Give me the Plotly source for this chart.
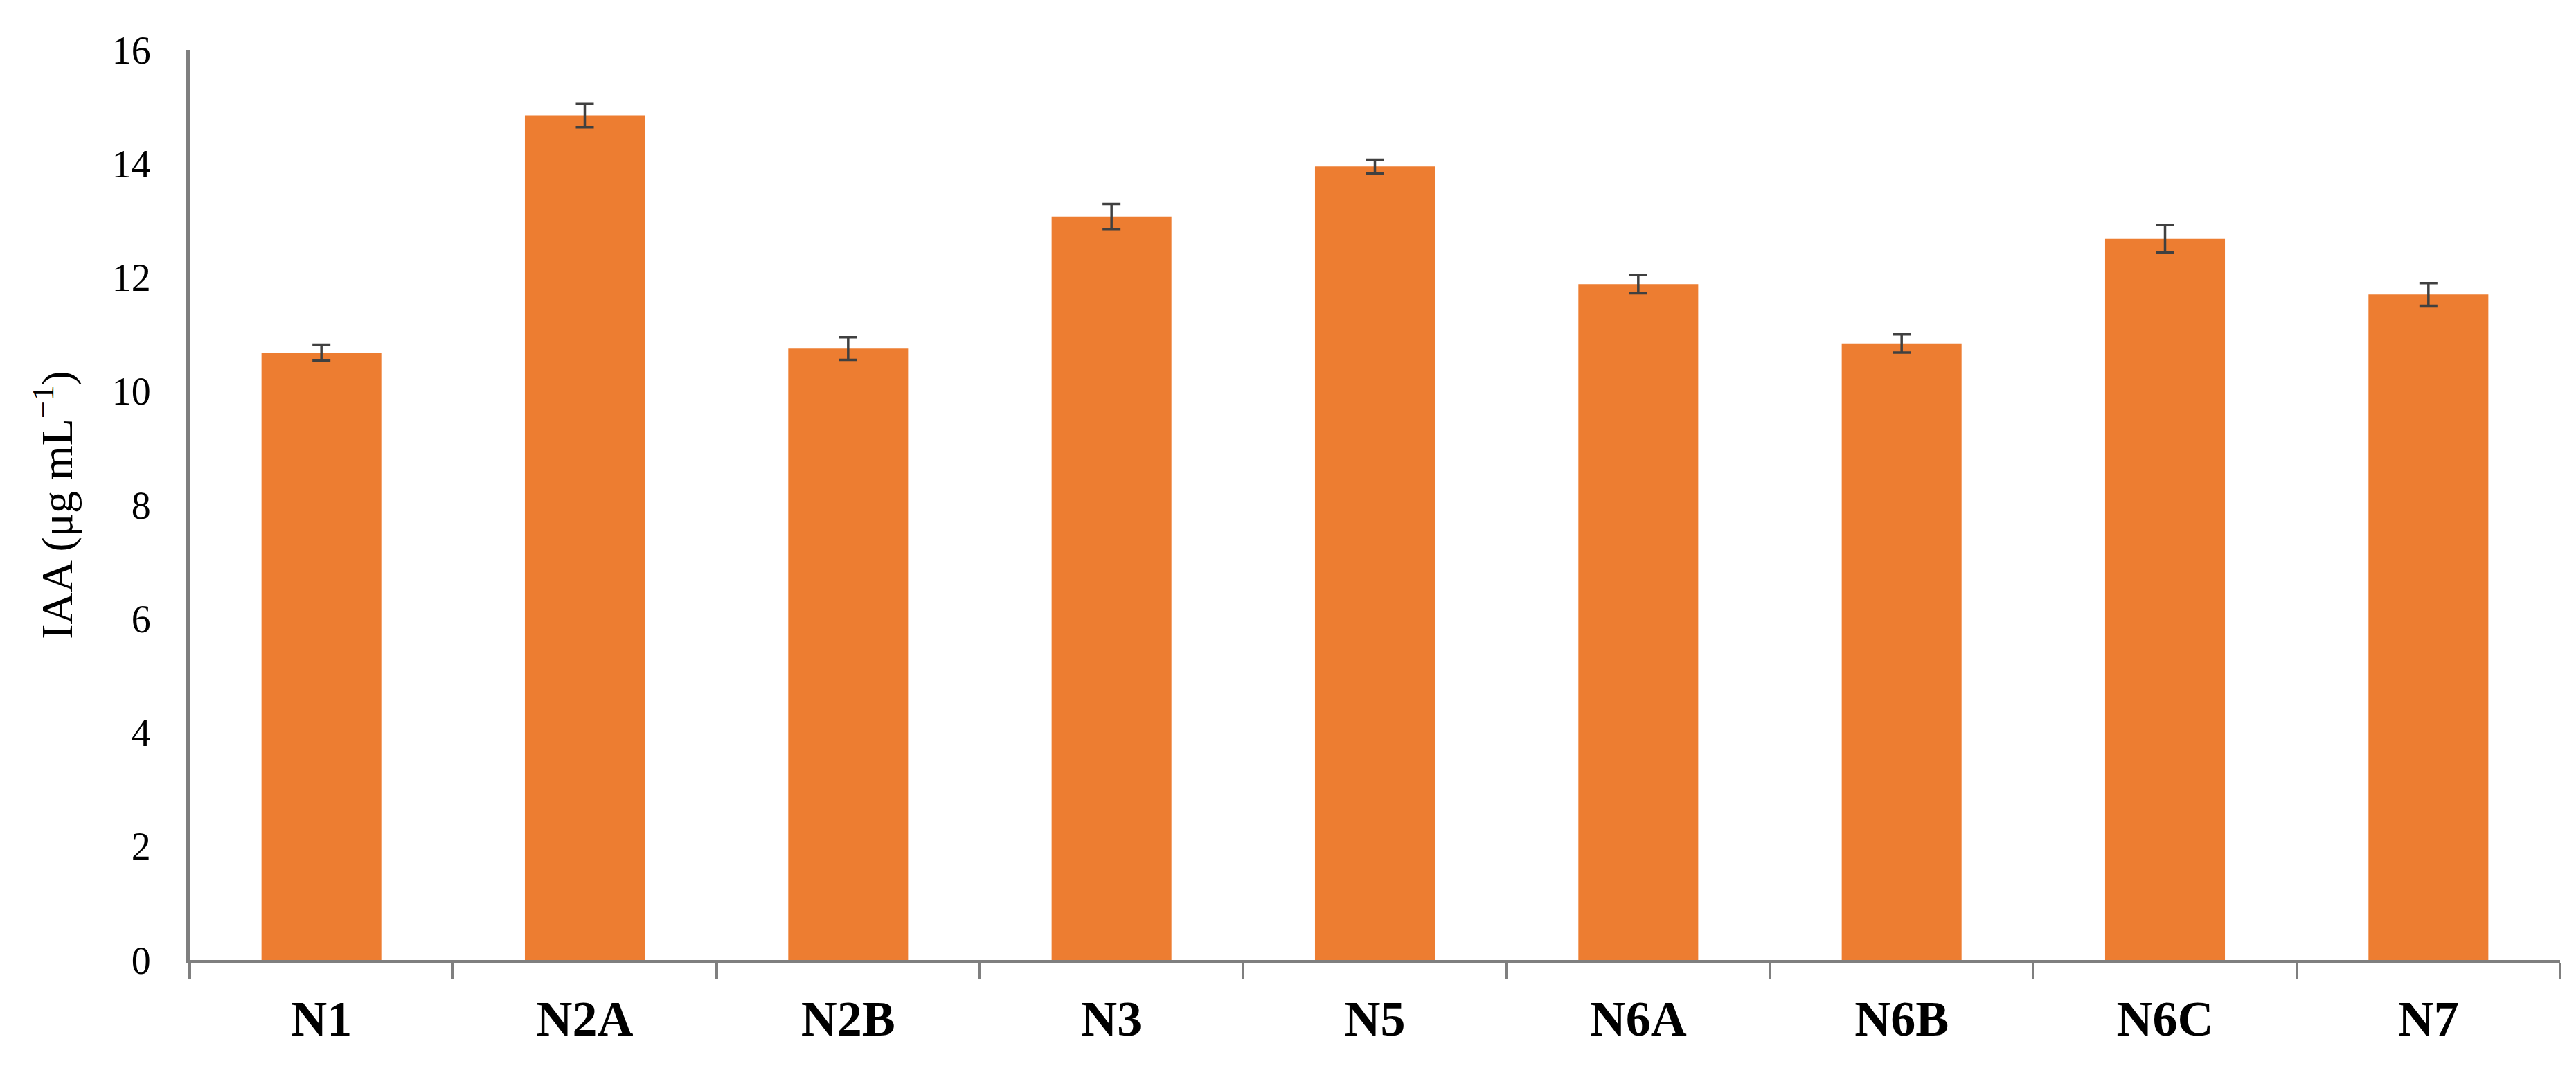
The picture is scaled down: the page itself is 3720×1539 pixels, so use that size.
import plotly.graph_objects as go

strains = ["N1", "N2A", "N2B", "N3", "N5", "N6A", "N6B", "N6C", "N7"]
iaa = [10.68, 14.85, 10.75, 13.07, 13.95, 11.88, 10.84, 12.68, 11.70]
iaa_err = [0.14, 0.21, 0.20, 0.22, 0.12, 0.16, 0.16, 0.24, 0.20]

yTitle = "IAA (μg mL<sup>−1</sup>)"
serif = "Liberation Serif"

fig = go.Figure()
fig.add_trace(go.Bar(
    x=strains,
    y=iaa,
    width=0.455,
    marker=dict(color="#ED7D31", line=dict(width=0)),
    error_y=dict(type="data", array=iaa_err, visible=True,
                 color="#404040", thickness=3.5, width=13),
))

fig.update_xaxes(
    showline=True, linecolor="#7f7f7f", linewidth=5,
    ticks="outside", tickson="boundaries", ticklen=22, tickwidth=4, tickcolor="#7f7f7f",
    tickfont=dict(family=serif, size=72, color="black", weight="bold"),
    ticklabelstandoff=18,
    showgrid=False, zeroline=False,
)
fig.update_yaxes(
    range=[0, 16], dtick=2,
    showline=True, linecolor="#7f7f7f", linewidth=5,
    ticks="", showgrid=False, zeroline=False,
    tickfont=dict(family=serif, size=56, color="black"),
    ticklabelstandoff=40,
    title=dict(text=yTitle, font=dict(family=serif, size=64, color="black"), standoff=38),
)
fig.update_layout(
    width=3720, height=1539,
    margin=dict(l=266, r=31, t=64, b=161),
    plot_bgcolor="white", paper_bgcolor="white",
    showlegend=False,
)

fig.write_html("out.html")
